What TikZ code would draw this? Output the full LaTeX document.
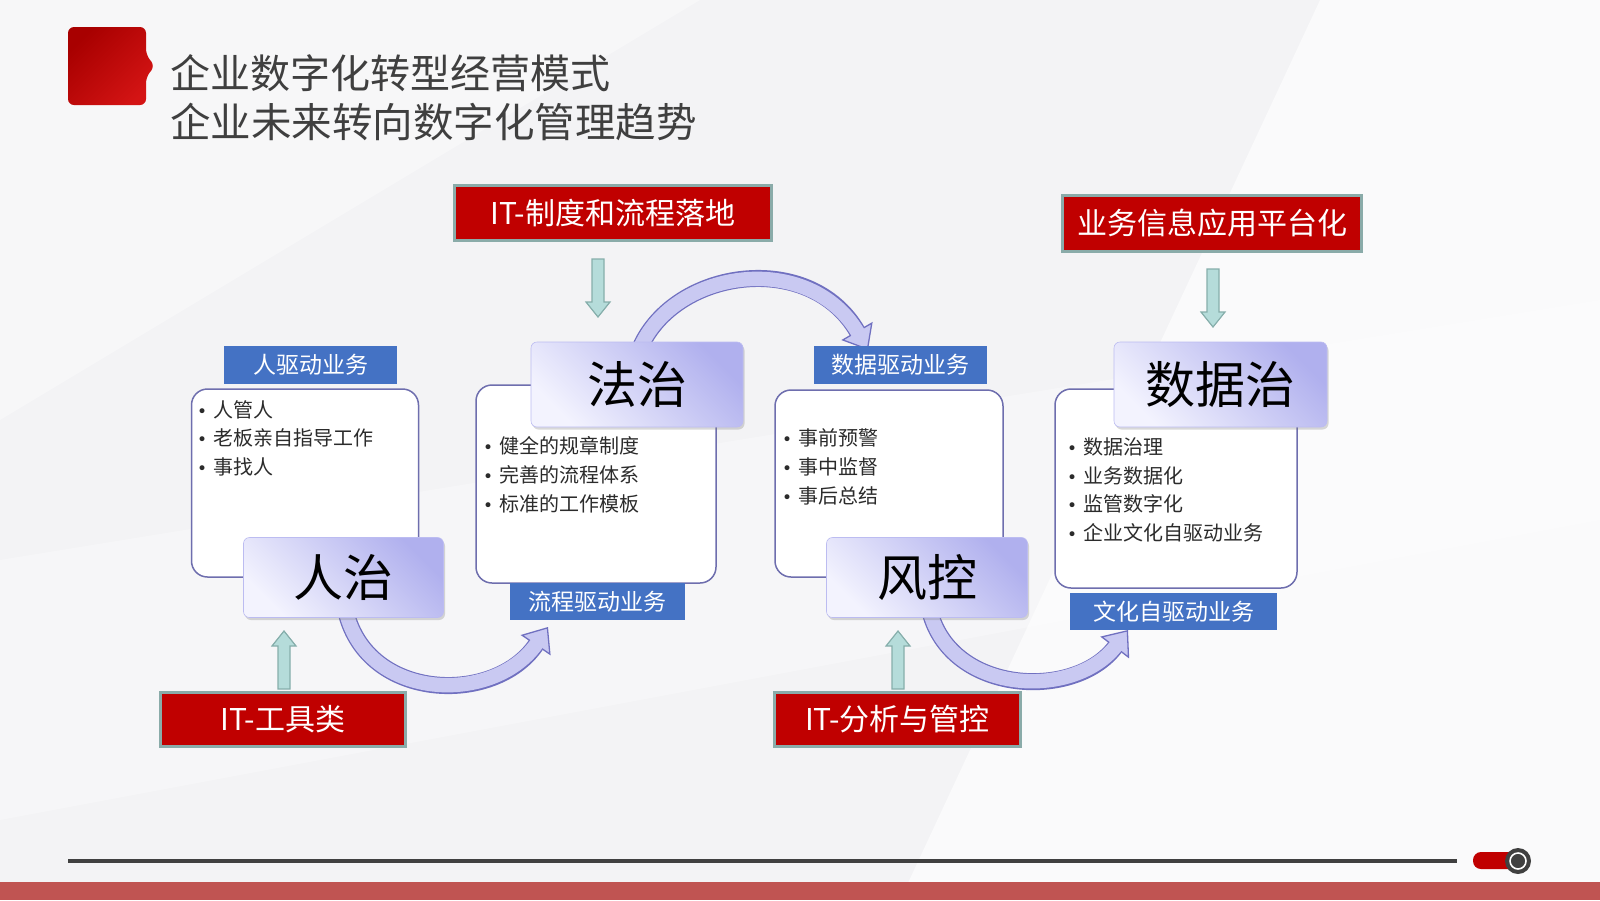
\documentclass[tikz,border=0pt]{standalone}
\usepackage{fontspec}
\newfontfamily\cjk{Noto Sans CJK SC}
\newfontfamily\dejavu{DejaVu Sans}
\usetikzlibrary{arrows.meta,shadows}
\definecolor{itred}{HTML}{C00000}
\definecolor{itborder}{HTML}{8AABA9}
\definecolor{lblue}{HTML}{4472C4}
\definecolor{lavdark}{HTML}{B0B0EE}
\definecolor{lavlight}{HTML}{F3F3FE}
\definecolor{cborder}{HTML}{6E6EAE}
\definecolor{arrfill}{HTML}{C9C9F2}
\definecolor{arrline}{HTML}{7070C0}
\definecolor{tealfill}{HTML}{B5DCDA}
\definecolor{tealline}{HTML}{86AEAB}
\definecolor{titlegray}{HTML}{3F3F3F}
\definecolor{bodytext}{HTML}{2B2B2B}
\definecolor{barred}{HTML}{C05452}
\definecolor{bgcol}{HTML}{F3F3F5}
\definecolor{icondark}{HTML}{A80000}
\definecolor{iconlight}{HTML}{D41414}
\definecolor{knob}{HTML}{404040}
\newcommand{\bl}{\makebox[0pt][c]{\dejavu\fontsize{17}{20}\selectfont •}\hspace{11pt}}
\begin{document}
\begin{tikzpicture}[x=1pt,y=-1pt,font=\cjk,
  itbox/.style={draw=itborder,line width=3pt,fill=itred,text=white,font=\cjk\fontsize{30}{36}\selectfont,inner sep=0pt},
  lavbox/.style={rounded corners=6pt,left color=lavdark,right color=lavlight,shading angle=-45,draw=lavdark!85!white,line width=0.6pt,text=black,font=\cjk\fontsize{50}{60}\selectfont,inner sep=0pt,drop shadow={shadow xshift=1.5pt,shadow yshift=-2.5pt,opacity=0.3}},
  bluelbl/.style={fill=lblue,text=white,font=\cjk\fontsize{23}{28}\selectfont,inner sep=0pt},
  cbox/.style={draw=cborder,line width=1.5pt,fill=white,rounded corners=16pt,inner sep=0pt},
  bul/.style={anchor=west,text=bodytext,font=\cjk\fontsize{20}{24}\selectfont,inner sep=0pt},
  arrout/.style={draw=arrline,line width=17pt,-{Triangle[length=22pt,width=36pt,line width=1.3pt,fill=arrfill]},
     postaction={draw=arrfill,line width=14.4pt,shorten >=19pt,arrows=-}},
  downarr/.pic={\draw[draw=tealline,fill=tealfill,line width=1.2pt,line join=miter]
     (-6,0) -- (6,0) -- (6,43) -- (12,43) -- (0,58) -- (-12,43) -- (-6,43) -- cycle;}
]
% background
\fill[bgcol] (0,0) rectangle (1600,900);
\fill[white,opacity=0.6] (1320,0) -- (1600,0) -- (1600,900) -- (900,900) -- cycle;
\fill[white,opacity=0.35] (0,0) -- (700,0) -- (0,420) -- cycle;
\fill[white,opacity=0.3] (0,560) -- (1600,300) -- (1600,520) -- (0,820) -- cycle;
\useasboundingbox (0,0) rectangle (1600,900);

% title icon
\shade[rounded corners=6pt,left color=icondark,right color=iconlight,shading angle=45]
  (68,27) -- (146,27) -- (146,55) -- (155,66) -- (146,77) -- (146,105) -- (68,105) -- cycle;
\node[anchor=west,inner sep=0pt,text=titlegray,font=\cjk\fontsize{40}{48}\selectfont] (t1) at (170,73) {企业数字化转型经营模式};
\node[anchor=west,inner sep=0pt,text=titlegray,font=\cjk\fontsize{40.5}{48}\selectfont] (t2) at (170,122) {企业未来转向数字化管理趋势};

% content boxes
\node[cbox,minimum width=227pt,minimum height=188pt] (ca) at (305,483) {};
\node[cbox,minimum width=240pt,minimum height=198pt] (cb) at (596,484) {};
\node[cbox,minimum width=228pt,minimum height=187pt] (cc) at (889,483.5) {};
\node[cbox,minimum width=242pt,minimum height=199pt] (cd) at (1176,488.5) {};

% curved arrows
\coordinate (a1s) at (346,612); \coordinate (a1e) at (548,627);
\coordinate (a2s) at (640,348); \coordinate (a2e) at (868,350);
\coordinate (a3s) at (930,612); \coordinate (a3e) at (1128,630);
\draw[arrout] (a1s) .. controls (368,702) and (495,705) .. (a1e);
\draw[arrout] (a2s) .. controls (675,268) and (810,250) .. (a2e);
\draw[arrout] (a3s) .. controls (952,695) and (1075,700) .. (a3e);

% lavender title boxes
\node[lavbox,minimum width=200pt,minimum height=80pt] (rz) at (343.5,577.5) {人治};
\node[lavbox,minimum width=212pt,minimum height=85pt] (fz) at (637,384.5) {法治};
\node[lavbox,minimum width=201pt,minimum height=80pt] (fk) at (927,577.5) {风控};
\node[lavbox,minimum width=213pt,minimum height=85pt] (sj) at (1220.5,384.5) {数据治};

% blue labels
\node[bluelbl,minimum width=173pt,minimum height=38pt] (l1) at (310.5,365) {人驱动业务};
\node[bluelbl,minimum width=175pt,minimum height=37pt] (l2) at (597.5,601.5) {流程驱动业务};
\node[bluelbl,minimum width=173pt,minimum height=38pt] (l3) at (900.5,365) {数据驱动业务};
\node[bluelbl,minimum width=207pt,minimum height=37pt] (l4) at (1173.5,611.5) {文化自驱动业务};

% IT boxes
\node[itbox,minimum width=317pt,minimum height=55pt] (it1) at (613,213) {IT-制度和流程落地};
\node[itbox,minimum width=299pt,minimum height=56pt] (it2) at (1212,223.5) {业务信息应用平台化};
\node[itbox,minimum width=245pt,minimum height=54pt] (it3) at (283,719.5) {IT-工具类};
\node[itbox,minimum width=246pt,minimum height=54pt] (it4) at (897.5,719.5) {IT-分析与管控};

% teal block arrows
\pic at (598,259) {downarr};
\pic at (1213,269) {downarr};
\pic[rotate=180] at (284,689) {downarr};
\pic[rotate=180] at (898,689) {downarr};

% bullets
\node[bul] (a1) at (202,410) {\bl 人管人};
\node[bul] (a2) at (202,438) {\bl 老板亲自指导工作};
\node[bul] (a3) at (202,467) {\bl 事找人};
\node[bul] (b1) at (488,446) {\bl 健全的规章制度};
\node[bul] (b2) at (488,475) {\bl 完善的流程体系};
\node[bul] (b3) at (488,504) {\bl 标准的工作模板};
\node[bul] (c1) at (787,438) {\bl 事前预警};
\node[bul] (c2) at (787,467) {\bl 事中监督};
\node[bul] (c3) at (787,496) {\bl 事后总结};
\node[bul] (d1) at (1072,447) {\bl 数据治理};
\node[bul] (d2) at (1072,476) {\bl 业务数据化};
\node[bul] (d3) at (1072,504) {\bl 监管数字化};
\node[bul] (d4) at (1072,533) {\bl 企业文化自驱动业务};

% bottom bar and toggle
\coordinate (lineL) at (68,861); \coordinate (lineR) at (1457,861);
\draw[knob,line width=4.5pt] (lineL) -- (lineR);
\fill[itred,rounded corners=8pt] (1473,852) rectangle (1522,869);
\node[circle,fill=knob,minimum size=26pt,inner sep=0pt] (kb) at (1518,861) {};
\draw[white,line width=1.6pt] (kb.center) circle (8pt);
\fill[barred] (0,882) rectangle (1600,900);
\end{tikzpicture}
\end{document}
